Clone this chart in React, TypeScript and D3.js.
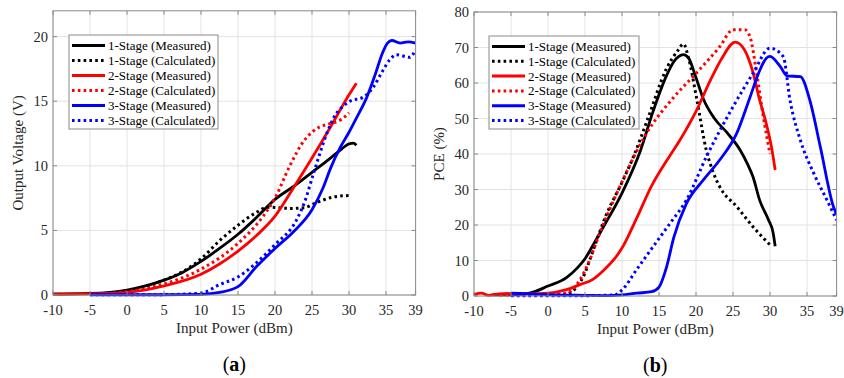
import React, { useRef, useEffect } from 'react';
import * as d3 from 'd3';

type Pt = [number, number];

// x values in dBm, y values in V (panel a) or % (panel b)
const xTicks = [-10, -5, 0, 5, 10, 15, 20, 25, 30, 35, 39];
const voltTicks = [0, 5, 10, 15, 20];
const pceTicks = [0, 10, 20, 30, 40, 50, 60, 70, 80];

const legendLabels = [
  '1-Stage (Measured)',
  '1-Stage (Calculated)',
  '2-Stage (Measured)',
  '2-Stage (Calculated)',
  '3-Stage (Measured)',
  '3-Stage (Calculated)',
];
const seriesColors = ['#000000', '#000000', '#ff0000', '#ff0000', '#0000ff', '#0000ff'];
const seriesDotted = [false, true, false, true, false, true];

// (a) Output voltage
const volt1Meas: Pt[] = [[-10, 0.08], [-5, 0.12], [0, 0.38], [2.5, 0.7], [5, 1.15], [7.5, 1.75], [10, 2.6], [12.5, 3.6], [15, 4.7], [17.5, 6.0], [20, 7.4], [22.5, 8.4], [25, 9.5], [27.5, 10.6], [29, 11.3], [30, 11.7], [30.6, 11.75], [31, 11.6]];
const volt1Calc: Pt[] = [[-5, 0.05], [0, 0.3], [5, 1.15], [7.5, 1.8], [10, 2.8], [12.5, 4.2], [15, 5.4], [17.5, 6.4], [19, 6.8], [20.5, 6.75], [22, 6.7], [24, 6.75], [25, 7.0], [26.5, 7.35], [28, 7.6], [30, 7.7]];
const volt2Meas: Pt[] = [[-10, 0.05], [-5, 0.08], [0, 0.2], [5, 0.7], [10, 1.6], [12.5, 2.4], [15, 3.4], [17.5, 4.6], [20, 6.1], [22.5, 8.3], [25, 10.6], [27.5, 13.0], [30, 15.5], [31, 16.4]];
const volt2Calc: Pt[] = [[-5, 0.05], [0, 0.25], [5, 0.85], [10, 2.0], [15, 4.0], [18.4, 6.1], [20, 7.5], [22, 10.0], [24, 12.0], [25, 12.6], [26, 13.0], [27, 13.2], [28, 13.35], [29, 13.6], [30, 14.1]];
const volt3Meas: Pt[] = [[-5, 0.02], [0, 0.02], [5, 0.02], [10, 0.05], [12.5, 0.2], [15, 0.65], [17.5, 2.2], [20, 3.6], [22.5, 4.9], [25, 6.6], [26.5, 8.3], [27.5, 9.8], [28.8, 11.4], [30, 12.6], [31, 13.7], [32.4, 15.3], [33.5, 17.0], [34.5, 18.7], [35.2, 19.5], [35.8, 19.7], [36.9, 19.5], [38, 19.6], [39, 19.5]];
const volt3Calc: Pt[] = [[-5, 0.02], [0, 0.02], [5, 0.03], [10, 0.15], [12.5, 0.8], [15, 1.4], [17.5, 2.5], [20, 3.9], [22.9, 5.8], [24, 7.2], [25.2, 9.4], [27, 12.5], [28, 13.8], [29.2, 14.6], [30.5, 15.1], [31.5, 15.2], [33.3, 16.1], [34.5, 17.3], [35.5, 18.2], [36.4, 18.6], [38.2, 18.4], [39, 19.0]];

// (b) PCE
const pce1Meas: Pt[] = [[-7.5, 0.3], [-5, 0.3], [-2.5, 0.8], [0, 2.8], [2.5, 5.2], [4, 8.0], [5, 10.5], [6, 14.0], [7.5, 19.5], [10, 29], [12.5, 41], [14.2, 52], [16, 62], [17, 66], [18.3, 68], [19, 67], [20, 61.5], [21, 55.5], [22.5, 50], [24.2, 46], [26, 41], [27, 37], [27.7, 33.6], [28.6, 27], [29.8, 21.4], [30.4, 18], [30.7, 14]];
const pce1Calc: Pt[] = [[-5, 0.2], [0, 0.3], [2.5, 0.6], [3.9, 2.6], [5, 6.5], [5.7, 10.5], [7.9, 23], [10, 32], [11.5, 39], [13.5, 50], [16, 64], [17.5, 69], [18.3, 71], [19, 67], [20.1, 55.5], [21.4, 41], [22.3, 35], [23.2, 30.8], [25.5, 25.2], [27.7, 19.5], [30, 14.4]];
const pce2Meas: Pt[] = [[-10, 0.4], [-9, 0.8], [-8, 0.2], [-7, 0.5], [-5, 0.7], [-2.5, 0.6], [0, 0.8], [2.5, 1.8], [4.3, 3.2], [6, 4.6], [7.5, 7.2], [9, 10.5], [10, 13.5], [12, 22], [14, 31], [16, 38], [18, 44.5], [20, 52], [22, 61], [23.5, 67], [25.3, 71.5], [26.5, 69.5], [27.7, 63], [28.5, 56], [29.5, 48.5], [30.2, 42], [30.7, 35.5]];
const pce2Calc: Pt[] = [[-6.5, 0.3], [-5, 0.3], [0, 0.2], [2.5, 0.8], [4.3, 4.5], [5.5, 9.5], [7, 17.7], [9.7, 30.8], [13.3, 45.8], [17, 56], [20, 62.7], [23.2, 70.2], [25, 75], [26.6, 75], [27.3, 73], [28.2, 62.7], [29.1, 50.5], [30, 40]];
const pce3Meas: Pt[] = [[-5, 0.8], [-2.5, 0.6], [0, 0.4], [5, 0.2], [8, 0.1], [10, 0.3], [12, 0.8], [14, 1.2], [15, 2.5], [16, 8], [17, 16.5], [18.7, 26], [21, 32.7], [23.2, 38.3], [25.5, 45.8], [27.3, 56], [28.5, 63], [29.5, 67], [30, 67.5], [31.4, 64.6], [32.3, 62], [34.1, 61.8], [35.4, 55], [36.8, 42], [38.6, 25], [39, 23]];
const pce3Calc: Pt[] = [[-5, 0.1], [0, 0.1], [5, 0.1], [9, 0.3], [10, 1.7], [12, 7.5], [14.2, 13.9], [16.5, 20.5], [18.7, 27], [21.4, 39.2], [25, 53.3], [27.7, 62.7], [30, 69.8], [31.8, 67.4], [32.7, 55.2], [34.1, 43.9], [35.9, 34.6], [37.7, 27], [39, 21.4]];

const voltSeries = [volt1Meas, volt1Calc, volt2Meas, volt2Calc, volt3Meas, volt3Calc];
const pceSeries = [pce1Meas, pce1Calc, pce2Meas, pce2Calc, pce3Meas, pce3Calc];

const FONT = '"Liberation Serif", "Times New Roman", serif';

interface PanelSpec {
  id: string;
  left: number;
  right: number;
  top: number;
  bottom: number;
  yMax: number;
  yTicks: number[];
  yLabel: string;
  tag: string;
  series: Pt[][];
  legend: { x: number; y: number; w: number; h: number };
}

const panels: PanelSpec[] = [
  {
    id: 'a', left: 53, right: 415.6, top: 10.8, bottom: 295, yMax: 22, yTicks: voltTicks,
    yLabel: 'Output Voltage (V)', tag: 'a', series: voltSeries,
    legend: { x: 69, y: 35, w: 149, h: 94 },
  },
  {
    id: 'b', left: 474, right: 836.6, top: 12, bottom: 296, yMax: 80, yTicks: pceTicks,
    yLabel: 'PCE (%)', tag: 'b', series: pceSeries,
    legend: { x: 489, y: 36, w: 150, h: 93 },
  },
];

function drawPanel(svg: d3.Selection<SVGSVGElement, unknown, null, undefined>, p: PanelSpec) {
  const x = d3.scaleLinear().domain([-10, 39]).range([p.left, p.right]);
  const y = d3.scaleLinear().domain([0, p.yMax]).range([p.bottom, p.bottom - (p.bottom - p.top)]);
  const g = svg.append('g');

  g.append('rect')
    .attr('x', p.left).attr('y', p.top)
    .attr('width', p.right - p.left).attr('height', p.bottom - p.top)
    .attr('fill', '#fff');

  // grid
  g.selectAll('line.vg').data(xTicks).join('line')
    .attr('x1', d => x(d)).attr('x2', d => x(d))
    .attr('y1', p.top).attr('y2', p.bottom)
    .attr('stroke', '#e3e3e3').attr('stroke-width', 1);
  g.selectAll('line.hg').data(p.yTicks).join('line')
    .attr('y1', d => y(d)).attr('y2', d => y(d))
    .attr('x1', p.left).attr('x2', p.right)
    .attr('stroke', '#e3e3e3').attr('stroke-width', 1);

  // curves
  const clipId = `clip-${p.id}`;
  svg.append('clipPath').attr('id', clipId)
    .append('rect')
    .attr('x', p.left).attr('y', p.top)
    .attr('width', p.right - p.left).attr('height', p.bottom - p.top + 2);

  const line = d3.line<Pt>()
    .x(d => x(d[0]))
    .y(d => y(d[1]))
    .curve(d3.curveMonotoneX);

  const cg = g.append('g').attr('clip-path', `url(#${clipId})`);
  p.series.forEach((s, i) => {
    cg.append('path')
      .attr('d', line(s))
      .attr('fill', 'none')
      .attr('stroke', seriesColors[i])
      .attr('stroke-width', seriesDotted[i] ? 3 : 2.8)
      .attr('stroke-dasharray', seriesDotted[i] ? '2.6 3.2' : null)
      .attr('stroke-linejoin', 'round');
  });

  // box + inward ticks
  g.append('rect')
    .attr('x', p.left).attr('y', p.top)
    .attr('width', p.right - p.left).attr('height', p.bottom - p.top)
    .attr('fill', 'none').attr('stroke', '#8a8a8a').attr('stroke-width', 1);
  const tk = 4;
  xTicks.forEach(t => {
    g.append('line').attr('x1', x(t)).attr('x2', x(t)).attr('y1', p.bottom).attr('y2', p.bottom - tk).attr('stroke', '#8a8a8a');
    g.append('line').attr('x1', x(t)).attr('x2', x(t)).attr('y1', p.top).attr('y2', p.top + tk).attr('stroke', '#8a8a8a');
  });
  p.yTicks.forEach(t => {
    g.append('line').attr('y1', y(t)).attr('y2', y(t)).attr('x1', p.left).attr('x2', p.left + tk).attr('stroke', '#8a8a8a');
    g.append('line').attr('y1', y(t)).attr('y2', y(t)).attr('x1', p.right).attr('x2', p.right - tk).attr('stroke', '#8a8a8a');
  });

  // tick labels
  g.selectAll('text.xt').data(xTicks).join('text')
    .attr('x', d => x(d)).attr('y', p.bottom + 20)
    .attr('text-anchor', 'middle')
    .attr('font-family', FONT).attr('font-size', 14.5).attr('fill', '#262626')
    .text(d => String(d));
  g.selectAll('text.yt').data(p.yTicks).join('text')
    .attr('x', p.left - 5).attr('y', d => y(d)).attr('dy', '0.35em')
    .attr('text-anchor', 'end')
    .attr('font-family', FONT).attr('font-size', 14.5).attr('fill', '#262626')
    .text(d => String(d));

  // axis labels
  g.append('text')
    .attr('x', (p.left + p.right) / 2).attr('y', p.bottom + 38)
    .attr('text-anchor', 'middle')
    .attr('font-family', FONT).attr('font-size', 15).attr('fill', '#262626')
    .text('Input Power (dBm)');
  g.append('text')
    .attr('transform', `translate(${p.left - 30},${(p.top + p.bottom) / 2}) rotate(-90)`)
    .attr('text-anchor', 'middle')
    .attr('font-family', FONT).attr('font-size', 15).attr('fill', '#262626')
    .text(p.yLabel);

  // panel tag
  const tag = g.append('text')
    .attr('x', (p.left + p.right) / 2).attr('y', p.bottom + 76)
    .attr('text-anchor', 'middle')
    .attr('font-family', FONT).attr('font-size', 20).attr('fill', '#000');
  tag.append('tspan').text('(');
  tag.append('tspan').attr('font-weight', 'bold').text(p.tag);
  tag.append('tspan').text(')');

  // legend
  const L = p.legend;
  g.append('rect')
    .attr('x', L.x).attr('y', L.y).attr('width', L.w).attr('height', L.h)
    .attr('fill', '#fff').attr('stroke', '#8a8a8a').attr('stroke-width', 1);
  const rowH = (L.h - 4) / legendLabels.length;
  legendLabels.forEach((lab, i) => {
    const cy = L.y + 3 + rowH * (i + 0.5);
    g.append('line')
      .attr('x1', L.x + 3).attr('x2', L.x + 36)
      .attr('y1', cy).attr('y2', cy)
      .attr('stroke', seriesColors[i])
      .attr('stroke-width', 3)
      .attr('stroke-dasharray', seriesDotted[i] ? '2.6 3.2' : null);
    g.append('text')
      .attr('x', L.x + 39).attr('y', cy).attr('dy', '0.35em')
      .attr('font-family', FONT).attr('font-size', 13).attr('fill', '#000')
      .text(lab);
  });
}

export default function App() {
  const svgRef = useRef<SVGSVGElement | null>(null);

  useEffect(() => {
    if (!svgRef.current) return;
    const svg = d3.select(svgRef.current);
    svg.selectAll('*').remove();
    panels.forEach(p => drawPanel(svg, p));
  }, []);

  return (
    <svg
      ref={svgRef}
      width={844}
      height={378}
      style={{ position: 'absolute', left: 0, top: 0, background: '#fff' }}
    />
  );
}
